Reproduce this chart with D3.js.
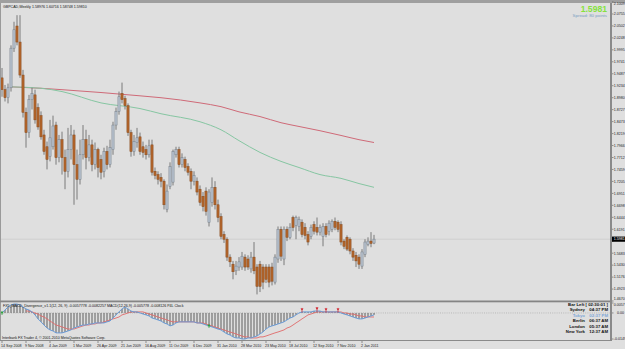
<!DOCTYPE html>
<html><head><meta charset="utf-8">
<script src="https://cdn.jsdelivr.net/npm/d3@7"></script>
<style>
html,body{margin:0;padding:0;background:#dfdfdf;overflow:hidden}
svg{display:block}
text{font-family:"Liberation Sans",Arial,sans-serif}
</style>
</head><body>
<svg id="c" width="625" height="349"></svg>
<script>
// ---------- DATA ----------
const opens = [1.940,1.915,1.898,1.919,2.003,2.050,2.016,1.946,1.867,1.824,
1.894,1.904,1.877,1.860,1.819,1.794,1.773,1.794,1.840,1.771,
1.809,1.771,1.742,1.788,1.819,1.756,1.725,1.777,1.809,1.771,
1.798,1.756,1.788,1.767,1.742,1.784,1.756,1.788,1.840,1.869,
1.907,1.896,1.881,1.824,1.784,1.803,1.815,1.794,1.788,1.777,
1.798,1.742,1.735,1.729,1.721,1.661,1.710,1.719,1.777,1.788,
1.756,1.767,1.752,1.742,1.721,1.721,1.704,1.689,1.700,1.634,
1.676,1.708,1.671,1.646,1.608,1.598,1.560,1.545,1.531,1.539,
1.539,1.560,1.556,1.535,1.560,1.539,1.545,1.539,1.539,1.539,
1.539,1.507,1.556,1.619,1.556,1.619,1.602,1.644,1.627,1.625,
1.634,1.623,1.608,1.604,1.629,1.623,1.613,1.604,1.625,1.615,
1.619,1.636,1.634,1.629,1.594,1.602,1.598,1.573,1.564,1.560,
1.541,1.566,1.587,1.594,1.5898];
const highs = [1.961,1.925,1.928,2.009,2.059,2.073,2.073,1.957,1.877,1.904,
1.919,1.915,1.886,1.869,1.830,1.805,1.851,1.860,1.847,1.819,
1.826,1.788,1.834,1.840,1.830,1.788,1.809,1.840,1.830,1.819,
1.809,1.803,1.792,1.777,1.792,1.796,1.809,1.847,1.877,1.911,
1.930,1.902,1.886,1.830,1.819,1.834,1.824,1.805,1.798,1.809,
1.809,1.750,1.742,1.738,1.725,1.714,1.761,1.788,1.794,1.794,
1.780,1.773,1.759,1.748,1.742,1.729,1.712,1.698,1.708,1.704,
1.729,1.721,1.682,1.653,1.615,1.602,1.566,1.552,1.552,1.560,
1.571,1.566,1.564,1.571,1.592,1.545,1.552,1.545,1.545,1.545,
1.548,1.566,1.625,1.625,1.625,1.625,1.632,1.648,1.648,1.646,
1.640,1.632,1.615,1.629,1.636,1.644,1.629,1.632,1.632,1.638,
1.640,1.644,1.638,1.636,1.598,1.606,1.602,1.579,1.571,1.566,
1.577,1.598,1.602,1.613,1.6072];
const lows = [1.900,1.890,1.886,1.911,1.995,2.009,1.940,1.856,1.792,1.813,
1.873,1.843,1.830,1.809,1.777,1.746,1.763,1.788,1.756,1.761,
1.735,1.704,1.729,1.767,1.671,1.682,1.714,1.767,1.746,1.763,
1.742,1.746,1.729,1.725,1.729,1.746,1.750,1.777,1.830,1.862,
1.886,1.873,1.817,1.773,1.775,1.792,1.777,1.771,1.767,1.771,
1.733,1.725,1.714,1.708,1.661,1.655,1.704,1.712,1.771,1.750,
1.750,1.742,1.733,1.704,1.712,1.691,1.669,1.657,1.648,1.625,
1.667,1.661,1.634,1.598,1.590,1.552,1.539,1.513,1.522,1.531,
1.533,1.531,1.533,1.527,1.524,1.481,1.486,1.492,1.505,1.496,
1.500,1.502,1.548,1.552,1.543,1.594,1.598,1.615,1.598,1.615,
1.602,1.598,1.585,1.598,1.608,1.606,1.606,1.583,1.602,1.606,
1.613,1.617,1.613,1.585,1.577,1.573,1.566,1.552,1.539,1.535,
1.535,1.560,1.583,1.581,1.5875];
const closes = [1.915,1.898,1.919,2.003,2.042,2.016,1.946,1.867,1.824,1.894,
1.907,1.851,1.836,1.815,1.784,1.767,1.813,1.838,1.771,1.809,
1.771,1.742,1.788,1.819,1.756,1.725,1.777,1.809,1.771,1.798,
1.756,1.788,1.750,1.740,1.784,1.756,1.792,1.840,1.869,1.900,
1.894,1.881,1.824,1.784,1.805,1.813,1.784,1.782,1.777,1.796,
1.740,1.733,1.725,1.721,1.671,1.700,1.752,1.784,1.788,1.756,
1.771,1.750,1.740,1.721,1.733,1.698,1.676,1.667,1.657,1.698,
1.708,1.671,1.644,1.604,1.598,1.560,1.550,1.529,1.541,1.550,
1.562,1.539,1.539,1.560,1.531,1.498,1.498,1.507,1.513,1.507,
1.509,1.560,1.619,1.562,1.619,1.602,1.623,1.623,1.644,1.640,
1.608,1.606,1.592,1.623,1.615,1.613,1.623,1.625,1.608,1.632,
1.636,1.623,1.619,1.592,1.583,1.577,1.573,1.560,1.552,1.545,
1.571,1.592,1.594,1.589,1.5981];

// moving averages (sampled at bar indices)
const maIdx   = [3,13,20,33,46,53,66,73,79,86,93,99,106,113,119,124];
const maRed   = [1.921,1.918,1.915,1.909,1.902,1.898,1.887,1.879,1.868,1.858,1.845,1.837,1.828,1.818,1.809,1.803];
const maGreen = [1.921,1.918,1.911,1.887,1.875,1.864,1.847,1.830,1.807,1.782,1.763,1.750,1.735,1.727,1.716,1.708];

// MACD panel
const macd = [0,0.0017,0.0034,0.0046,0.0051,0.0051,0.0046,0.0034,0.0023,0.0017,
0.0006,-0.0011,-0.0034,-0.0051,-0.0069,-0.0086,-0.0097,-0.0103,-0.0114,-0.0114,
-0.0114,-0.0109,-0.0103,-0.0097,-0.0086,-0.0080,-0.0074,-0.0069,-0.0069,-0.0063,
-0.0063,-0.0057,-0.0057,-0.0057,-0.0057,-0.0051,-0.0046,-0.0029,-0.0011,0.0006,
0.0023,0.0034,0.0023,0.0011,0.0006,0.0006,0,-0.0006,-0.0011,-0.0017,
-0.0029,-0.0034,-0.0040,-0.0046,-0.0057,-0.0063,-0.0074,-0.0069,-0.0057,-0.0051,
-0.0051,-0.0051,-0.0051,-0.0051,-0.0051,-0.0057,-0.0057,-0.0063,-0.0069,-0.0074,
-0.0080,-0.0086,-0.0092,-0.0097,-0.0109,-0.0120,-0.0126,-0.0137,-0.0143,-0.0143,
-0.0149,-0.0149,-0.0143,-0.0143,-0.0137,-0.0132,-0.0120,-0.0109,-0.0092,-0.0080,
-0.0074,-0.0069,-0.0063,-0.0057,-0.0051,-0.0040,-0.0029,-0.0023,-0.0011,0,
0.0006,0.0006,0.0006,0.0006,0.0011,0.0011,0.0011,0.0006,0.0006,0.0006,
0.0006,0.0006,0.0006,0,-0.0006,-0.0011,-0.0017,-0.0023,-0.0029,-0.0034,
-0.0034,-0.0029,-0.0023,-0.0017,-0.0011];
const signal = [null,null,null,null,null,null,null,null,0.0011,0.0011,
0.0006,0,-0.0006,-0.0017,-0.0023,-0.0034,-0.0046,-0.0057,-0.0069,-0.0074,
-0.0080,-0.0086,-0.0092,-0.0092,-0.0092,-0.0086,-0.0080,-0.0074,-0.0069,-0.0069,
-0.0063,-0.0063,-0.0057,-0.0057,-0.0051,-0.0046,-0.0040,-0.0034,-0.0029,-0.0023,
-0.0011,-0.0006,0,0.0006,0.0006,0.0006,0.0006,0.0006,0,-0.0006,
-0.0011,-0.0017,-0.0023,-0.0029,-0.0034,-0.0040,-0.0046,-0.0051,-0.0051,-0.0051,
-0.0051,-0.0051,-0.0051,-0.0051,-0.0051,-0.0057,-0.0057,-0.0057,-0.0063,-0.0069,
-0.0074,-0.0080,-0.0086,-0.0092,-0.0097,-0.0103,-0.0109,-0.0114,-0.0120,-0.0126,
-0.0132,-0.0137,-0.0137,-0.0143,-0.0143,-0.0143,-0.0137,-0.0137,-0.0132,-0.0126,
-0.0120,-0.0114,-0.0109,-0.0103,-0.0097,-0.0086,-0.0080,-0.0069,-0.0057,-0.0046,
-0.0034,-0.0023,-0.0011,-0.0006,0,0.0006,0.0006,0.0006,0.0006,0.0006,
0.0006,0.0006,0.0006,0.0006,0,0,-0.0006,-0.0006,-0.0011,-0.0017,
-0.0017,-0.0023,-0.0023,-0.0023,-0.0023];
const upArrowIdx = [0, 69];
const downArrowIdx = [100, 105, 108, 112];

// axis labels
const priceTicks = [2.1009,2.0755,2.0502,2.0248,1.9995,1.9741,1.9487,1.9234,1.8980,1.8727,1.8473,1.8219,1.7966,1.7712,1.7459,1.7205,1.6951,1.6698,1.6444,1.6191,1.5937,1.5683,1.5430,1.5176,1.4923,1.4670];
const dateIdx = [0,8,16,24,32,40,48,56,64,72,80,88,96,104,112,120];
const dateLabels = ["14 Sep 2008","9 Nov 2008","4 Jan 2009","1 Mar 2009","26 Apr 2009","21 Jun 2009","16 Aug 2009","11 Oct 2009","6 Dec 2009","31 Jan 2010","28 Mar 2010","23 May 2010","18 Jul 2010","12 Sep 2010","7 Nov 2010","2 Jan 2011"];
const macdTickVals = [0.0057, 0, -0.0149];
const macdTickLabels = ["0.0057", "0.00", "-0.0149"];
const infoNames = ["Sydney","Tokyo","Berlin","London","New York"];
const infoTimes = ["04:37 PM","02:37 PM","06:37 AM","05:37 AM","12:37 AM"];
const lastPrice = 1.5981;

// ---------- DRAW ----------
const W = 625, H = 349;
const svg = d3.select('#c');
const axisX = 611;
const xs = d3.scaleLinear().domain([0,124]).range([2,374]);
const ys = d3.scaleLinear().domain([1.4670,2.1009]).range([301,2]);
const ym = d3.scaleLinear().domain([-0.0149,0.0057]).range([339,303]);
const fs = 3.6;
const afs = 3.6;

svg.append('rect').attr('width',W).attr('height',H).attr('fill','#dfdfdf');
svg.append('rect').attr('width',W).attr('height',3).attr('fill','#9f9f9f');

const defs = svg.append('defs');
defs.append('clipPath').attr('id','mainClip').append('rect').attr('x',0).attr('y',3).attr('width',axisX).attr('height',298);
const main = svg.append('g').attr('clip-path','url(#mainClip)');

// bid line
main.append('line').attr('x1',0).attr('x2',axisX).attr('y1',ys(lastPrice)).attr('y2',ys(lastPrice))
  .attr('stroke','#cfcfcf').attr('stroke-width',1);

// moving averages
const maLine = d3.line().x(d=>xs(d[0])).y(d=>ys(d[1])).curve(d3.curveMonotoneX);
main.append('path').attr('d',maLine(maIdx.map((k,j)=>[k,maRed[j]])))
  .attr('fill','none').attr('stroke','#cf6a78').attr('stroke-width',1);
main.append('path').attr('d',maLine(maIdx.map((k,j)=>[k,maGreen[j]])))
  .attr('fill','none').attr('stroke','#86c6a2').attr('stroke-width',1);

// candles
const bars = opens.map((o,i)=>({i,o,h:highs[i],l:lows[i],c:closes[i]}));
const cg = main.append('g');
cg.selectAll('line.w').data(bars).join('line').attr('class','w')
  .attr('x1',d=>xs(d.i)).attr('x2',d=>xs(d.i))
  .attr('y1',d=>ys(d.h)).attr('y2',d=>ys(d.l))
  .attr('stroke','#6f6f6f').attr('stroke-width',0.9);
cg.selectAll('rect.b').data(bars).join('rect').attr('class','b')
  .attr('x',d=>xs(d.i)-1.1).attr('width',2.2)
  .attr('y',d=>Math.min(ys(d.o),ys(d.c)))
  .attr('height',d=>Math.max(0.8,Math.abs(ys(d.o)-ys(d.c))))
  .attr('fill',d=>d.c>=d.o?'#b7c1cd':'#b3652c')
  .attr('stroke',d=>d.c>=d.o?'#77808b':'#864a1e').attr('stroke-width',0.5);

// frame lines
svg.append('line').attr('x1',0.5).attr('x2',0.5).attr('y1',3).attr('y2',341).attr('stroke','#9a9a9a');
svg.append('rect').attr('x',0).attr('y',300.5).attr('width',axisX).attr('height',1.8).attr('fill','#858585');
svg.append('line').attr('x1',0).attr('x2',axisX).attr('y1',340.5).attr('y2',340.5).attr('stroke','#8a8a8a');
svg.append('rect').attr('x',axisX-1).attr('y',3).attr('width',2).attr('height',338).attr('fill','#8a8a8a');

// price axis
const pa = svg.append('g');
const yl = ys(lastPrice);
priceTicks.forEach(v=>{
  const y = ys(v);
  pa.append('line').attr('x1',axisX+1).attr('x2',axisX+2.5).attr('y1',y).attr('y2',y).attr('stroke','#555').attr('stroke-width',0.6);
  if (Math.abs(y-yl) < 5) return; // hidden behind the current-price tag
  const ty = Math.min(Math.max(y,4), 298.6);
  pa.append('text').attr('x',axisX+2.8).attr('y',ty+1.3).attr('font-size',afs).attr('fill','#222').text(v.toFixed(4));
});
pa.append('rect').attr('x',axisX+1).attr('y',yl-2.6).attr('width',13).attr('height',5.2).attr('fill','#000');
pa.append('text').attr('x',axisX+2.8).attr('y',yl+1.3).attr('font-size',afs).attr('fill','#fff').text(lastPrice.toFixed(4));

// title texts
svg.append('text').attr('x',3).attr('y',7.6).attr('font-size',fs).attr('fill','#111')
  .text('GBPCAD,Weekly  1.58976 1.60716 1.58748 1.59810');
svg.append('text').attr('x',607).attr('y',12).attr('text-anchor','end').attr('font-size',8.6)
  .attr('font-weight','bold').attr('fill','#86e23e').text(lastPrice.toFixed(4));
svg.append('text').attr('x',607).attr('y',17.2).attr('text-anchor','end').attr('font-size',4.4)
  .attr('fill','#7c9ec2').text('Spread: 80 points');

// ---------- MACD panel ----------
defs.append('clipPath').attr('id','macdClip').append('rect').attr('x',0).attr('y',302.3).attr('width',axisX-1).attr('height',38);
const mp = svg.append('g').attr('clip-path','url(#macdClip)');
mp.append('line').attr('x1',0).attr('x2',axisX).attr('y1',ym(0)).attr('y2',ym(0))
  .attr('stroke','#a9a9a9').attr('stroke-width',0.7).attr('stroke-dasharray','1,1.2');
mp.selectAll('line.h').data(macd).join('line').attr('class','h')
  .attr('x1',(d,i)=>xs(i)).attr('x2',(d,i)=>xs(i))
  .attr('y1',ym(0)).attr('y2',d=>ym(d))
  .attr('stroke','#3d3d3d').attr('stroke-width',0.8);
const mLine = d3.line().defined(d=>d[1]!==null).x(d=>xs(d[0])).y(d=>ym(d[1]));
mp.append('path').attr('d',mLine(signal.map((v,i)=>[i,v])))
  .attr('fill','none').attr('stroke','#e06a6a').attr('stroke-width',0.9);
mp.append('path').attr('d',mLine(macd.map((v,i)=>[i,v])))
  .attr('fill','none').attr('stroke','#6a9bd6').attr('stroke-width',1);
upArrowIdx.forEach(i=>{
  const x = xs(i), y = ym(macd[i]);
  mp.append('path').attr('d',`M${x},${y-2.2}L${x+1.6},${y+0.4}L${x-1.6},${y+0.4}Z`).attr('fill','#2e9e3e');
  mp.append('line').attr('x1',x).attr('x2',x).attr('y1',y).attr('y2',y+2).attr('stroke','#2e9e3e').attr('stroke-width',0.8);
});
downArrowIdx.forEach(i=>{
  const x = xs(i), y = ym(macd[i]) - 2.5;
  mp.append('path').attr('d',`M${x},${y+1.2}L${x+1.5},${y-1}L${x-1.5},${y-1}Z`).attr('fill','#d21f2a');
  mp.append('line').attr('x1',x).attr('x2',x).attr('y1',y-1.5).attr('y2',y+3).attr('stroke','#d21f2a').attr('stroke-width',0.7);
});

svg.append('text').attr('x',3).attr('y',307).attr('font-size',fs).attr('fill','#111')
  .text('FX5_MACD_Divergence_v1.1(12, 26, 9) -0.0057778 -0.0082257  MACD(12,26,9) -0.005778 -0.008126  P4L Clock');
svg.append('text').attr('x',2).attr('y',338.8).attr('font-size',fs).attr('fill','#111')
  .text('Interbank FX Trader 4, \u00a9 2001-2010 MetaQuotes Software Corp.');

// MACD axis labels
macdTickVals.forEach((v,j)=>{
  const y = ym(v);
  svg.append('line').attr('x1',axisX+1).attr('x2',axisX+2.5).attr('y1',y).attr('y2',y).attr('stroke','#555').attr('stroke-width',0.6);
  const ty = Math.max(y, 305);
  svg.append('text').attr('x',v===0?axisX+6:axisX+2.8).attr('y',ty+1.3).attr('font-size',afs).attr('fill','#222').text(macdTickLabels[j]);
});

// clock info box
const ib = svg.append('g').attr('font-size',4.3).attr('font-weight','bold');
ib.append('text').attr('x',608).attr('y',305.6).attr('text-anchor','end').attr('fill','#111').text('Bar Left [ 02:30:01 ]');
infoNames.forEach((n,j)=>{
  const y = 311.2 + j*5.5;
  const col = n==='Tokyo' ? '#7fa6d6' : '#111';
  ib.append('text').attr('x',585).attr('y',y).attr('text-anchor','end').attr('fill',col).text(n);
  ib.append('text').attr('x',608).attr('y',y).attr('text-anchor','end').attr('fill',col).text(infoTimes[j]);
});

// date axis
dateIdx.forEach((k,j)=>{
  const x = xs(k);
  svg.append('line').attr('x1',x).attr('x2',x).attr('y1',341).attr('y2',343).attr('stroke','#555').attr('stroke-width',0.6);
  svg.append('text').attr('x',x-1).attr('y',347.3).attr('font-size',fs).attr('fill','#222').text(dateLabels[j]);
});
</script>
</body></html>
